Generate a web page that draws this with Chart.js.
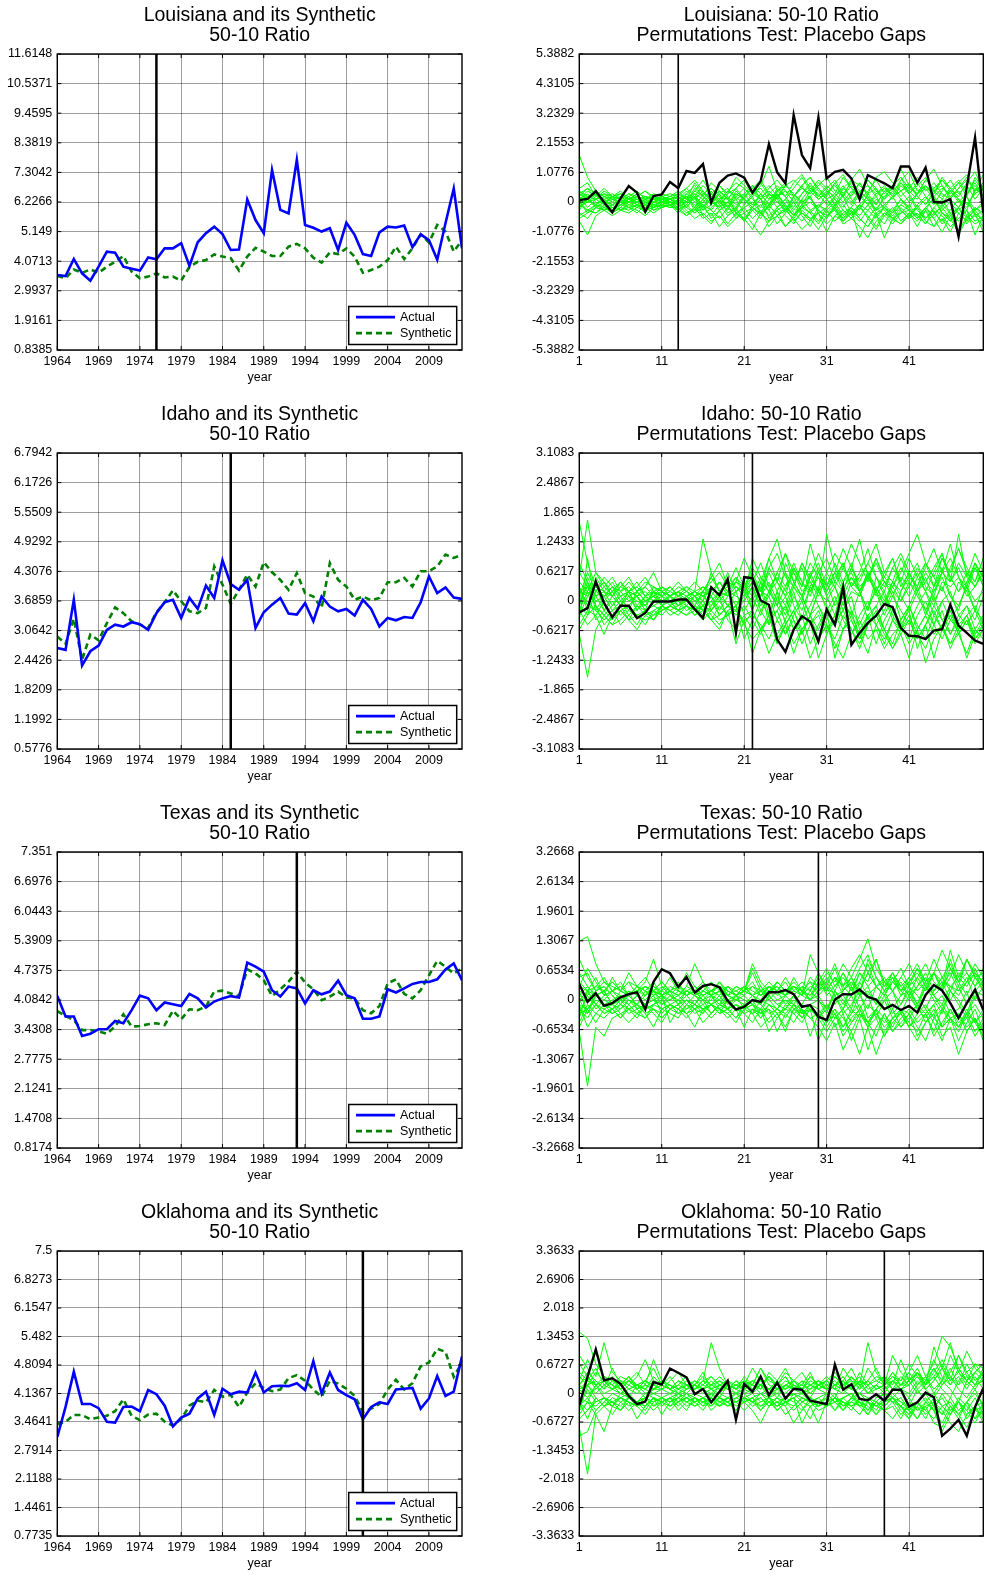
<!DOCTYPE html>
<html>
<head>
<meta charset="utf-8">
<script src="https://cdn.jsdelivr.net/npm/chart.js@4.4.0/dist/chart.umd.min.js"></script>
<style>
  body { margin: 0; background: #fff; overflow: hidden; width: 985px; height: 1585px; position: relative; }
  canvas { position: absolute; }
</style>
</head>
<body>
<canvas id="c0" width="490" height="399" style="left:0;top:0"></canvas>
<canvas id="c1" width="495" height="399" style="left:490px;top:0"></canvas>
<canvas id="c2" width="490" height="399" style="left:0;top:399px"></canvas>
<canvas id="c3" width="495" height="399" style="left:490px;top:399px"></canvas>
<canvas id="c4" width="490" height="399" style="left:0;top:798px"></canvas>
<canvas id="c5" width="495" height="399" style="left:490px;top:798px"></canvas>
<canvas id="c6" width="490" height="388" style="left:0;top:1197px"></canvas>
<canvas id="c7" width="495" height="388" style="left:490px;top:1197px"></canvas>
<script>
// x axes
var years = [1964,1965,1966,1967,1968,1969,1970,1971,1972,1973,1974,1975,1976,1977,1978,1979,1980,1981,1982,1983,
  1984,1985,1986,1987,1988,1989,1990,1991,1992,1993,1994,1995,1996,1997,1998,1999,2000,2001,2002,2003,
  2004,2005,2006,2007,2008,2009,2010,2011,2012,2013];
var periods = [1,2,3,4,5,6,7,8,9,10,11,12,13,14,15,16,17,18,19,20,21,22,23,24,25,26,27,28,29,30,
  31,32,33,34,35,36,37,38,39,40,41,42,43,44,45,46,47,48,49,50];
var yearTicks = [1964,1969,1974,1979,1984,1989,1994,1999,2004,2009];
var periodTicks = [1,11,21,31,41];

// ---------------------------------------------------------------- Louisiana
var laTreatYear = 1976, laTreatPeriod = 13;
var laTicks = [0.8385,1.9161,2.9937,4.0713,5.149,6.2266,7.3042,8.3819,9.4595,10.5371,11.6148];
var laGapTicks = [-5.3882,-4.3105,-3.2329,-2.1553,-1.0776,0,1.0776,2.1553,3.2329,4.3105,5.3882];
var laActual = [3.57,3.53,4.15,3.63,3.36,3.87,4.42,4.38,3.87,3.80,3.73,4.21,4.14,4.54,4.54,4.73,3.90,4.76,5.09,5.33,
  5.06,4.48,4.50,6.32,5.57,5.09,7.39,5.94,5.81,7.76,5.39,5.29,5.15,5.27,4.48,5.47,5.03,4.33,4.26,5.12,
  5.33,5.30,5.37,4.58,5.05,4.84,4.12,5.45,6.72,4.54];
var laSynth = [3.53,3.45,3.77,3.65,3.77,3.65,3.87,4.05,4.26,3.69,3.45,3.51,3.63,3.48,3.51,3.36,3.87,4.05,4.11,4.32,
  4.24,4.18,3.73,4.24,4.56,4.42,4.26,4.26,4.60,4.70,4.54,4.20,4.02,4.39,4.33,4.54,4.24,3.65,3.75,3.87,
  4.11,4.60,4.15,4.54,5.05,4.75,5.39,5.15,4.42,4.84];
var laGap = [0.07,0.11,0.40,-0.01,-0.38,0.13,0.58,0.34,-0.35,0.22,0.28,0.73,0.50,1.13,1.06,1.38,-0.02,0.70,0.96,1.04,
  0.89,0.34,0.76,2.11,1.08,0.68,3.17,1.71,1.23,3.08,0.86,1.10,1.17,0.86,0.10,0.98,0.83,0.68,0.50,1.29,
  1.29,0.70,1.25,0.00,-0.02,0.10,-1.26,0.55,2.35,-0.41];
var laPlacebo = [
  [1.7,.9,.4,.2,.1,0,.1,.2,.1,0,.1,.1,.3,.5,.2,.6,.3,.1,.4,.7,.5,.2,.6,1.3,.4,.6,.8,.5,.3,.7,.4,.2,.5,.8,.6,.3,.9,1.1,.7,.4,.6,.3,.8,.5,.2,.4,.7,1,.3,.6],
  [-.7,-1.2,-.5,-.3,-.2,-.3,-.1,-.2,-.3,-.1,-.2,-.1,0,-.3,-.6,-.4,-.7,-.5,-.9,-.6,-.4,-.8,-1.2,-.7,-.5,-.9,-.6,-1,-.7,-.4,-.8,-.5,-.3,-.6,-.9,-1.3,-.7,-.4,-.6,-.8,-.5,-.2,-.7,-.9,-.4,-.6,-1.1,-.5,-.8,-.6],
  [.3,.1,-.1,.2,.3,.1,-.1,0,.2,.1,0,-.1,.1,.4,.1,-.2,.3,.6,.2,-.1,.2,.5,.1,-.3,.2,.6,.3,-.1,.4,.8,.5,.1,-.2,.3,.7,.2,-.1,.4,.6,.9,.3,-.2,.1,.5,.8,.4,0,.3,.7,.2],
  [-.3,.2,.3,-.1,-.4,-.2,.1,.3,-.1,-.2,.1,0,-.1,-.4,-.2,.1,-.3,-.6,-.2,.1,-.4,-.2,.3,-.1,-.5,-.3,.2,-.4,-.7,-.2,.1,-.3,-.6,-.2,.3,-.1,-.5,-.8,-.3,.1,-.2,-.6,-.3,.2,-.4,-.7,-.2,.2,-.5,-.3],
  [.1,.4,.2,.5,.2,-.1,.2,.4,.1,.3,.2,.1,.2,.5,.8,.4,.1,.6,.3,.9,.6,.3,.1,.5,.8,.4,.2,.6,.9,.5,.2,.7,1,.5,.3,.8,.4,.1,.6,.9,.5,.3,.8,1.2,.6,.2,.5,.9,.4,1],
  [0,-.3,-.4,-.1,.2,-.3,-.4,-.2,.1,-.3,-.1,0,-.2,0,.3,-.2,-.5,-.1,.2,-.4,-.6,-.2,.1,-.3,-.8,-.4,0,-.5,-.9,-.3,-.6,-.2,-.7,-.4,-.1,-.6,-1,-.5,-.2,-.7,-.4,-.9,-.3,-.6,-1.1,-.5,-.2,-.8,-.4,-.7],
  [.5,.7,.2,.3,.1,.2,0,.1,-.1,.2,0,.1,-.1,.2,-.3,.1,.4,0,-.3,.2,.5,.1,-.2,.3,.1,-.4,.2,.6,.1,-.2,.3,.7,.2,-.1,.4,.1,-.3,.2,.5,.1,-.2,.3,.6,.2,-.1,.4,.1,-.3,.5,.2],
  [-.4,-.6,-.2,-.3,-.5,-.3,-.2,-.4,-.1,-.3,-.2,-.1,.1,-.2,.2,-.3,-.1,.3,-.2,-.5,-.1,.2,-.4,-.2,.3,-.1,-.5,-.2,.2,-.3,-.6,-.1,.2,-.4,-.7,-.3,.1,-.2,-.5,-.1,.2,-.3,-.6,-.2,.1,-.4,-.2,-.6,-.3,0],
  [.2,-.2,.1,.4,.2,.3,.1,-.1,.1,.2,.1,.2,.3,.1,.4,.8,.3,0,.4,.2,-.1,.3,.7,.2,-.2,.1,.5,.9,.4,.1,.3,.6,.2,.8,1.2,.6,.3,.5,.2,.7,.4,.1,.6,.3,.9,.5,.2,.7,1.1,.4],
  [-.2,0,.3,.1,-.3,0,.2,-.1,-.4,0,.1,-.1,-.3,.1,-.1,-.5,-.2,.1,-.4,-.2,-.7,-.3,-.1,-.5,-.2,.1,-.4,-.7,-.3,-.1,-.4,-.1,-.6,-.3,-1.3,-.6,-.2,-.5,-.8,-.4,-.3,-.6,-.2,-.5,-.1,-.4,-.7,-.3,-1.2,-.5],
  [.1,.3,0,-.2,.1,.3,.2,0,.2,.1,-.1,.1,.2,0,.4,.2,-.1,.3,.5,.1,.3,-.1,.2,.4,.1,.6,.3,0,.2,.5,.1,.3,0,.4,.2,-.1,.3,.6,.2,.4,0,.3,.5,.1,-.2,.2,.4,-.1,.3,.5],
  [-.1,.1,-.2,-.3,-.1,.1,-.2,-.3,-.5,-.2,-.1,-.2,.1,.2,-.2,.3,.1,-.2,0,.3,.1,-.2,-.5,-.1,.2,-.3,-.6,-.2,-.4,-.1,-.3,-.7,-.4,-.2,-.5,-.1,.2,-.3,-.6,-.4,-.1,-.5,-.8,-.4,-.2,-.6,-.3,0,-.4,-1.1],
  [.4,.2,.1,.3,.2,.1,.3,.1,.2,0,.2,.1,.2,0,.5,.2,.7,.4,.1,.5,.8,.3,.5,.1,.4,.7,.2,.5,.3,.6,.9,.4,.2,.6,.3,.8,.5,.1,.4,.7,.3,.6,.9,.4,.1,.5,.8,.3,.6,.2],
  [-.5,-.3,-.4,-.2,-.3,-.1,-.2,-.1,-.3,-.2,-.1,-.2,-.2,-.5,-.3,-.1,-.6,-.3,-.8,-.4,-.2,-.6,-.3,-.9,-.5,-.2,-.7,-.4,-.6,-1,-.5,-.3,-.8,-.6,-.2,-.5,-.9,-.4,-.7,-.3,-.6,-.4,-.8,-.2,-.5,-.9,-.6,-.3,-.7,-.5],
  [.2,.5,.3,.1,-.1,.1,.3,.2,.4,.2,.3,.2,.1,.3,0,-.3,.2,.4,.1,-.2,.3,.6,.1,-.2,.4,.2,-.3,.1,.5,.3,-.1,.2,.6,.1,-.3,.3,.5,-.1,.2,.4,.7,.2,-.1,.4,.6,.1,-.2,.3,.8,.4],
  [0,-.4,-.2,0,.1,-.1,0,.2,0,-.1,0,.1,-.1,-.2,.2,-.1,-.3,.1,-.2,.3,.1,-.2,-.4,.1,.3,-.2,-.5,-.1,.2,-.4,-.2,.1,-.3,-.6,-.1,.2,-.3,-.1,-.4,.1,-.3,-.6,-.2,.1,-.4,-.7,-.2,.2,-.3,-.1],
  [.2,0,.1,-.1,.2,.1,0,.1,-.1,.1,.2,0,-.2,.3,.6,.2,-.1,.4,.1,-.3,.2,.5,.8,.3,0,-.3,.2,.6,.9,.4,.1,-.2,.3,.7,.4,.1,-.3,.2,.5,1.2,.6,.2,-.1,.3,.8,.5,.1,-.2,.4,.7],
  [-.2,.1,-.1,-.3,-.1,0,-.2,-.1,.1,-.2,0,-.1,-.4,-.1,.2,-.5,-.8,-.3,0,-.4,-.7,-.2,.1,-.6,-.3,-.9,-.5,-.1,-.4,-.8,-.3,0,-.5,-.2,-.6,-.9,-.4,-1.3,-.6,-.2,-.5,-.1,-.6,-.3,-.8,-.4,-1.2,-.6,-.3,-.7],
  [.3,.5,.1,.2,0,.2,.1,.3,.2,.1,.1,.2,.4,.1,.7,.3,.5,.2,.1,.5,.8,.4,.1,.3,.6,.2,.7,1,.5,.2,.6,.3,.9,.5,.1,.4,.8,.3,.6,.2,.5,.9,.4,.7,.3,.1,.5,.8,.4,.6],
  [-.1,-.3,-.1,.1,-.2,-.1,.1,-.1,-.2,0,-.1,0,.2,-.2,-.4,0,.3,-.1,-.5,-.2,.1,-.3,-.6,-.1,.3,-.2,-.5,.1,-.3,-.7,-.2,.2,-.1,-.5,-.2,.1,-.4,-.2,.2,-.3,-.6,-.1,.2,-.4,-.7,-.3,.1,-.5,-.2,-.4],
  [.1,.2,.3,.1,.2,.4,.1,0,.1,.2,.1,.1,0,.2,.1,.4,0,-.2,.3,.5,.1,-.1,.3,.6,.2,.4,0,.3,.7,.2,.5,.8,.3,0,.4,.6,.2,.5,.3,.8,1.1,.4,.6,.2,.5,.3,.7,.2,.9,.5],
  [-.6,-.4,-.1,-.2,-.4,-.2,-.3,-.1,-.2,-.4,-.2,-.1,-.3,-.5,-.2,-.6,-.4,-.9,-.5,-.3,-.6,-1,-.4,-.7,-.2,-.5,-.8,-.3,-.6,-.4,-1.1,-.5,-.7,-.3,-.6,-.9,-.5,-.2,-.6,-.8,-.4,-.7,-.3,-.9,-.6,-1.1,-.4,-.7,-.5,-.9],
  [.4,.1,.3,0,.2,.3,.1,.2,.4,.1,.2,.3,.2,-.1,.3,.1,.5,.2,-.2,.4,.1,.6,.3,-.1,.5,.2,-.2,.3,.6,.1,.4,-.1,.5,.2,.7,.3,-.1,.4,.1,.6,.3,.7,.2,-.1,.4,.8,.3,.6,.1,.5],
  [0,.2,-.2,0,-.1,-.3,0,-.2,0,-.1,-.2,0,-.3,-.1,-.4,-.2,.1,-.3,-.1,-.6,-.2,0,-.4,-.7,-.3,-.1,-.5,-.2,0,-.3,-.5,-.2,-.7,-.4,-.1,-.3,-.6,-.2,-.4,-.1,-.3,-.5,-.2,-.6,-.3,0,-.4,-.7,-.2,-.5]
];

// ---------------------------------------------------------------- Idaho
var idTreatYear = 1985, idTreatPeriod = 22;
var idTicks = [0.5776,1.1992,1.8209,2.4426,3.0642,3.6859,4.3076,4.9292,5.5509,6.1726,6.7942];
var idGapTicks = [-3.1083,-2.4867,-1.865,-1.2433,-0.6217,0,0.6217,1.2433,1.865,2.4867,3.1083];
var idActual = [2.70,2.66,3.71,2.33,2.63,2.75,3.08,3.19,3.15,3.24,3.20,3.08,3.43,3.66,3.71,3.33,3.75,3.52,4.01,3.75,
  4.54,4.04,3.92,4.13,3.12,3.45,3.61,3.75,3.42,3.40,3.64,3.26,3.78,3.57,3.47,3.52,3.38,3.71,3.52,3.15,
  3.33,3.28,3.35,3.33,3.66,4.20,3.85,3.97,3.76,3.73];
var idSynth = [2.94,2.79,3.31,2.45,2.98,2.86,3.22,3.55,3.43,3.26,3.19,3.12,3.45,3.66,3.91,3.68,3.47,3.43,3.54,4.41,
  4.03,3.63,3.92,4.24,3.99,4.50,4.29,4.13,3.92,4.27,3.85,3.78,3.54,4.48,4.13,3.99,3.71,3.78,3.70,3.75,
  4.08,4.08,4.17,3.99,4.31,4.31,4.41,4.66,4.59,4.66];
var idGap = [-0.24,-0.15,0.41,-0.04,-0.34,-0.10,-0.10,-0.36,-0.25,-0.01,-0.01,-0.01,0.03,0.03,-0.17,-0.36,0.29,0.12,0.46,-0.67,
  0.50,0.48,0.01,-0.08,-0.81,-1.07,-0.60,-0.32,-0.43,-0.85,-0.18,-0.50,0.29,-0.92,-0.67,-0.46,-0.31,-0.06,-0.13,-0.57,
  -0.73,-0.74,-0.80,-0.62,-0.59,-0.08,-0.52,-0.67,-0.83,-0.90];
var idPlacebo = [
  [1.65,.8,.3,.2,.1,.3,.2,.1,.2,0,.1,0,.1,.2,.1,.3,.2,.4,.1,.2,.3,.7,.4,.9,1.3,.6,.3,.8,.5,1,.6,.3,.7,1.2,.8,.4,.9,.5,.3,.6,1,1.4,.8,.5,.9,.6,1.1,.7,.4,.9],
  [-.7,-1.6,-.6,-.3,-.5,-.2,-.4,-.3,-.5,-.2,-.3,-.1,-.2,-.3,-.1,-.2,-.4,-.1,-.3,-.2,-.5,-.8,-.6,-1.1,-.7,-.4,-.9,-.6,-1.2,-.8,-.5,-.9,-1.2,-.7,-.4,-.8,-.6,-1,-.7,-.5,-.9,-.6,-1.3,-.8,-.5,-.9,-.7,-1.1,-.6,-.8],
  [.5,1.7,.6,.4,.2,.4,.2,.3,.1,.2,.1,.3,.1,0,.2,1.3,.6,.2,.1,.3,.1,.9,.5,.2,.6,1,.4,.1,.5,.8,.3,.6,.2,.7,1.3,.5,.2,.6,.9,.4,.1,.5,.8,.3,.6,1.2,.5,.2,.7,.4],
  [.2,.3,-.1,-.3,-.1,.2,0,.1,-.2,.3,.1,-.1,.2,-.1,.1,0,.3,.1,.6,.2,.4,-.2,.4,-.3,.2,.6,-.1,-.4,.3,.7,.1,-.3,.4,.8,.2,-.2,.5,.1,-.4,.2,.6,.2,-.3,.3,.7,.1,-.2,.4,.8,.3],
  [-.3,.1,.4,-.2,-.4,-.2,-.1,-.3,-.2,-.1,-.2,-.1,0,-.2,-.1,-.3,-.1,.1,-.4,-.6,-.3,-.2,-.6,-.3,-.9,-.5,-.2,-.7,-.3,-.1,-.5,-.8,-.3,-.6,-1,-.5,-.2,-.6,-.9,-.4,-.1,-.5,-.8,-.3,-.6,-.2,-.7,-.4,-.8,-.5],
  [.4,.2,.6,.3,.1,.4,.2,.1,.3,.6,.2,.1,.2,.1,.2,.3,.1,.4,.2,.5,.3,.5,.2,.1,.6,.3,.8,.4,.2,.6,.9,.4,.2,.7,.3,.5,.8,.4,.1,.5,.3,.7,.4,.2,.6,.9,.5,.3,.8,.5],
  [-.5,-.2,-.3,-.7,-.3,-.1,-.4,-.6,-.3,-.4,-.2,-.1,-.2,-.1,-.3,-.1,-.4,-.3,-.1,-.2,-.4,-.3,-.5,-.8,-.4,-.1,-.6,-.3,-.9,-.5,-.2,-1.2,-.6,-.4,-.8,-.3,-.5,-.9,-.4,-.7,-1.2,-.6,-.3,-.7,-.5,-1,-.6,-.3,-.8,-.6],
  [0,.3,.1,.2,-.1,.1,-.2,.2,0,.1,0,.1,.2,0,.1,-.1,.2,.4,.2,.1,0,.3,.1,.4,0,-.2,.3,.1,-.3,.2,.4,-.1,.1,.5,.2,-.2,.3,0,.4,.1,-.2,.2,.5,0,.3,-.1,.4,.2,-.2,.3],
  [-.2,-.5,-.3,0,.2,-.1,.1,-.2,.1,-.1,0,.1,-.1,.1,0,-.2,.1,-.3,-.1,0,-.2,.1,-.3,.2,-.1,-.4,.1,-.2,.3,-.1,-.4,0,.3,-.2,-.5,-.1,.2,-.3,.1,-.2,-.5,-.1,.2,-.3,0,-.4,-.1,.3,-.2,-.4],
  [.3,-.1,.2,.5,.3,.2,.3,.1,-.1,.2,.3,.1,0,.1,-.1,.2,.1,-.2,.1,.3,.2,.5,.1,.6,.2,-.1,.4,.7,.2,.5,.1,.4,.8,.3,.1,.6,.2,.5,.9,.3,.6,.2,.4,.7,1,.5,.2,.6,.3,.7],
  [-.1,.4,-.2,-.4,-.2,0,-.3,-.5,-.2,-.4,-.1,-.2,-.1,0,-.2,-.4,-.2,0,-.3,-.1,.2,-.2,.3,-.5,-.2,.1,-.4,-.7,-.3,.2,-.1,-.5,-.2,.1,-.6,-.3,-.9,-.4,-.1,-.5,-.2,-1,-.5,-.1,-.4,-.7,-.3,-.5,-.2,-.6],
  [.1,0,-.2,.1,.3,.1,.2,-.1,.1,0,.2,0,-.1,.1,.2,.1,-.1,.2,.3,.7,.3,.1,.5,.3,-.1,.8,.4,.1,.6,.2,1.4,.7,.3,.5,.2,.6,.3,-.1,.4,.2,.5,.8,.3,.1,.6,.4,1.4,.5,.3,.6],
  [-.6,-.3,-.1,-.3,-.5,-.4,-.2,-.3,-.4,-.3,-.1,-.2,-.3,-.1,-.2,0,-.3,-.5,-.2,-.9,-.4,-1.1,-.6,-.3,-.8,-.5,-.2,-.6,-.4,-1.2,-.7,-.3,-.6,-.2,-.8,-.5,-.3,-.6,-1,-.7,-.4,-.8,-.5,-1.2,-.6,-.3,-.7,-.4,-.9,-.6],
  [.2,.1,.3,.1,.2,.4,.1,.2,0,.1,.2,.1,.3,.2,0,.1,.2,0,.2,-.1,.1,.3,-.1,.2,.4,.1,.3,0,.5,.2,0,.3,-.2,.2,.1,.5,.2,-.1,.3,0,.4,.1,-.2,.2,.5,.1,-.1,.3,0,.2],
  [-.1,-.3,.2,.1,-.2,-.1,.1,0,-.1,.2,-.1,0,-.2,.1,-.1,.2,-.2,.1,-.1,-.3,-.1,-.4,0,-.3,.2,-.5,-.2,.1,-.3,-.6,-.2,.1,-.4,-.7,-.3,0,-.5,-.2,.2,-.4,-.1,-.6,-.3,.1,-.4,-.2,-.6,-.3,-.1,-.5],
  [.6,.3,.2,.4,.1,.3,.5,.2,.4,.3,.2,.3,.1,.2,.4,.2,.5,.8,.3,.4,.9,.5,.2,.7,.4,1,.6,.3,.8,.5,.2,.6,1.1,.7,.4,.8,.5,.3,.7,1,.6,.3,.8,.5,.2,.7,1.1,.6,.4,.9],
  [.1,.6,.2,.4,.1,-.1,.2,.3,.5,.2,.1,.2,.1,.3,.2,.1,.3,.1,.2,.4,.3,.6,.2,.9,.4,.1,.7,.3,1.2,.6,.2,.5,.8,.3,.6,1.1,.5,.2,.7,.4,.9,.5,.2,.6,1,.4,.7,.3,.8,.5],
  [-.4,.9,-.1,-.5,-.3,-.2,-.4,-.1,-.3,-.2,-.1,-.3,-.2,-.1,-.3,-.2,-.4,-.6,-.2,-.1,-.8,-.4,-.7,-.3,-.9,-.5,-1.1,-.6,-.3,-.8,-.5,-1,-.6,-.3,-.7,-1.1,-.5,-.8,-.4,-.6,-.3,-.7,-1,-.5,-.8,-.4,-.6,-1.2,-.7,-.5],
  [.3,-.2,.5,.2,.4,.1,.2,.4,.1,.3,.2,.1,.2,.3,.1,.2,.5,.2,.4,.3,.1,.4,.8,.3,.5,.2,.7,.4,.1,.6,.3,.8,.4,.6,.2,.5,.9,.4,.3,.7,.4,.2,.6,.3,.9,.5,.2,.4,.7,.3],
  [-.2,.2,-.4,-.2,0,-.3,-.1,.1,-.2,-.4,-.1,0,-.2,-.1,.1,-.2,0,-.3,-.1,.2,-.3,-.6,-.2,.1,-.4,-.7,-.3,0,-.5,-.2,-.6,-.3,.1,-.4,-.8,-.3,-.1,-.6,-.2,-.5,-.8,-.3,0,-.5,-.2,-.7,-.4,-.1,-.6,-.3],
  [.8,.4,.1,.3,.5,.2,.4,.2,.3,.1,.3,.2,.4,.2,.1,.2,.4,.6,.3,.5,.2,.4,.1,.7,1,.5,.3,.8,.4,.2,.6,1,.7,.3,.5,.8,1.2,.6,.4,.9,.5,.3,.7,1.1,.6,.4,.8,.5,1,.6],
  [-.3,-.1,-.2,-.4,-.2,-.5,-.3,-.1,-.2,-.3,-.2,-.1,-.2,-.3,-.2,-.1,-.2,-.4,-.3,-.1,-.5,-.2,-.6,-.4,-.2,-.7,-.4,-.9,-.5,-.3,-.7,-.4,-.2,-.6,-.9,-.5,-.3,-.7,-1,-.6,-.4,-.8,-.5,-.2,-.6,-.9,-.5,-.3,-.7,-.4],
  [.1,.2,0,.1,.3,0,.2,.1,-.1,.2,0,.1,-.1,.1,.2,0,.6,.2,.1,.4,.2,0,.4,.2,-.1,.3,.6,.2,.4,.1,.5,.3,-.1,.4,.2,.6,.1,.4,.2,0,.3,.6,.2,-.1,.4,.3,.5,.1,.3,.6],
  [-.1,.5,.1,-.2,.1,-.1,.2,-.2,0,.1,-.1,.1,0,-.1,.1,-.1,0,.2,-.1,-.2,0,.3,-.2,-.5,.1,-.3,.2,-.4,-.1,.3,-.2,-.5,0,-.3,.2,-.4,-.1,.2,-.3,-.6,-.1,.3,-.2,-.5,0,.2,-.3,-.1,-.4,.1]
];

// ---------------------------------------------------------------- Texas
var txTreatYear = 1993, txTreatPeriod = 30;
var txTicks = [0.8174,1.4708,2.1241,2.7775,3.4308,4.0842,4.7375,5.3909,6.0443,6.6976,7.351];
var txGapTicks = [-3.2668,-2.6134,-1.9601,-1.3067,-0.6534,0,0.6534,1.3067,1.9601,2.6134,3.2668];
var txActual = [4.17,3.72,3.72,3.29,3.34,3.44,3.44,3.62,3.57,3.86,4.18,4.12,3.86,4.03,3.99,3.95,4.22,4.12,3.92,4.05,
  4.12,4.17,4.14,4.91,4.82,4.71,4.30,4.16,4.38,4.34,4.01,4.30,4.21,4.27,4.51,4.19,4.12,3.67,3.67,3.72,
  4.32,4.25,4.34,4.44,4.48,4.48,4.54,4.76,4.89,4.52];
var txSynth = [3.84,3.73,3.64,3.42,3.42,3.39,3.34,3.50,3.77,3.50,3.51,3.55,3.57,3.53,3.85,3.66,3.88,3.86,3.94,4.27,
  4.29,4.23,4.17,4.76,4.67,4.52,4.17,4.32,4.49,4.71,4.47,4.32,4.08,4.16,4.27,4.14,4.12,3.86,3.79,3.95,
  4.45,4.54,4.22,4.12,4.30,4.63,4.95,4.82,4.67,4.78];
var txGap = [0.35,-0.04,0.15,-0.13,-0.07,0.06,0.13,0.17,-0.21,0.40,0.68,0.59,0.29,0.51,0.16,0.31,0.35,0.28,-0.02,-0.21,
  -0.15,0.00,-0.04,0.17,0.17,0.22,0.13,-0.15,-0.11,-0.37,-0.44,0.01,0.13,0.12,0.23,0.07,0.01,-0.20,-0.11,-0.22,
  -0.13,-0.28,0.11,0.33,0.21,-0.07,-0.40,-0.07,0.23,-0.22];
var txPlacebo = [
  [1.3,1.4,.8,.4,.3,.2,.4,.3,.2,.1,.3,.2,.1,.3,.2,.1,.2,.3,.1,.2,.3,.1,.2,.4,.2,.1,.3,.2,.4,.3,.6,.4,.8,.5,.9,1.35,.7,.4,.6,.3,.5,.8,.4,.6,1.1,.7,.4,.9,.5,.6],
  [-.7,-1.9,-.6,-.8,-.4,-.3,-.5,-.3,-.4,-.2,-.3,-.1,-.2,-.3,-.1,-.2,-.4,-.2,-.3,-.1,-.2,-.3,-.6,-.4,-.2,-.3,-.5,-.2,-.4,-.6,-.9,-.5,-1.1,-.7,-1.2,-.6,-.4,-.8,-.5,-.3,-.6,-.9,-.5,-.3,-.8,-.6,-1.2,-.7,-.4,-.8],
  [.3,.7,.4,.1,.5,.2,.6,.3,.1,.2,.4,.2,.1,.3,.8,.4,.2,.1,.3,.2,.1,.3,.2,.1,.4,.2,.3,.1,1,.6,.3,.7,.2,.4,.1,.9,.5,.2,.6,.3,.1,.5,.8,.4,.2,.7,.3,.9,.5,.2],
  [-.4,.2,-.1,-.3,-.2,0,-.2,-.1,-.3,-.6,-.2,-.1,-.2,0,-.1,-.2,-.1,-.3,0,-.2,-.6,-.2,-.3,-.1,-.2,-.4,-.1,-.3,-.2,-.9,-.4,-.2,-.6,-.3,-.1,-.5,-.8,-.3,-.6,-.2,-.5,-.7,-.3,-.1,-.6,-.4,-.9,-.5,-.2,-.7],
  [.1,.3,.1,.2,-.1,.2,.4,.1,-.1,.2,.1,0,.2,.1,-.1,.2,.1,0,.3,.1,.2,.6,.2,.3,.1,.2,.4,.2,.1,.3,.2,.5,.1,-.2,.4,.8,.3,.1,.5,.2,.3,-.1,.4,.6,.2,.9,.4,.1,.5,.3],
  [-.2,-.4,-.1,-.2,-.3,-.1,-.2,-.4,-.1,.1,-.3,-.1,-.2,-.4,-.2,0,-.3,-.1,-.2,-.4,-.1,-.3,-.2,-.5,-.3,-.7,-.2,-.3,-.1,-.4,-.2,-.6,-.3,-.9,-.4,-1.1,-.6,-.3,-.7,-.4,-.2,-.5,-.3,-.8,-.5,-.2,-.6,-.4,-.8,-.5],
  [.5,.6,.2,.3,.1,-.1,.1,.2,.4,.9,.3,.1,-.1,.2,.1,.3,.1,-.1,.2,.1,.3,.1,-.1,.2,.3,.1,.5,.2,0,.4,.7,.3,.5,.2,.6,.4,.9,.3,.5,.1,.4,.7,.3,.6,.2,.5,1,.6,.3,.7],
  [0,-.3,.1,.2,-.1,0,.2,-.2,-.4,-.1,.1,-.5,-.2,0,-.1,-.3,.1,-.2,0,.1,-.2,0,-.3,.1,-.1,-.2,.1,-.3,-.1,0,-.3,.2,-.1,.3,-.2,.1,-.4,0,.2,-.3,.1,-.2,.3,0,-.3,.2,-.1,-.4,.1,-.2],
  [.2,.1,.3,.2,.4,.2,.1,.3,.2,.4,.1,.2,.3,.1,.2,.4,.1,.2,.3,.1,.2,.4,.1,.3,.2,.1,.3,.2,.4,.1,.3,.1,.2,.4,.2,.6,.3,.1,.4,.2,.5,.2,.4,.1,.3,.6,.2,.4,.7,.3],
  [-.3,-.2,-.5,-.2,-.1,-.3,-.2,-.1,-.3,-.2,-.4,-.2,-.3,-.1,-.2,-.3,-.1,-.2,-.4,-.2,-.3,-.5,-.2,-.7,-.4,-.2,-.3,-.5,-.2,-.4,-.7,-.4,-.2,-.5,-.3,-.6,-.2,-.4,-.7,-.5,-.3,-.6,-.9,-.4,-.2,-.5,-.3,-.7,-.4,-.9],
  [0,.2,.1,-.1,0,.1,-.1,.1,0,.2,-.1,0,.1,-.1,.1,0,-.1,.1,-.2,0,.1,-.1,.2,0,-.2,.1,-.1,.2,0,.1,-.2,.2,0,-.3,.1,.3,-.1,.2,-.2,.1,.2,-.1,.3,.1,-.2,.2,0,-.3,.2,.1],
  [.4,.2,.3,.5,.2,.4,.1,.2,.3,.1,.2,.1,.3,.2,.1,.2,.4,.2,.1,.3,.2,.8,.4,.2,.3,.1,.2,.4,.2,.6,.2,.5,.3,.7,1,.6,.3,.4,.2,.5,.8,.4,.2,.6,.3,1.1,.5,.3,.6,.4],
  [-.1,-.2,0,-.1,-.3,-.2,0,-.2,-.1,-.3,-.5,-.2,-.1,-.3,-.6,-.2,-.1,-.3,-.2,-.1,-.3,-.2,-.4,-.1,-.3,-.6,-.2,-.4,-.1,-.2,-.5,-.3,-.7,-.4,-.2,-.5,-.3,-.6,-.4,-.2,-.6,-.3,-.1,-.4,-.6,-.2,-.5,-.3,-.7,-.4],
  [.1,0,.2,.3,.1,-.1,.2,.1,.3,.2,0,.2,.4,.1,.2,0,.2,.3,.1,0,.2,.1,0,.3,.2,.4,.1,.3,.2,.5,.1,.3,.6,.2,.4,.1,.3,.5,.2,.4,.1,.3,.6,.2,.5,.3,.1,.4,.6,.2],
  [-.5,-.1,-.3,-.4,-.2,-.1,-.3,-.2,-.1,0,-.2,-.1,-.3,-.2,0,-.2,-.1,-.3,-.2,-.1,-.2,0,-.1,-.3,-.2,0,-.1,-.2,-.8,-.3,-.1,-.4,-.2,.1,-.3,-.5,-.2,0,-.4,-.2,-.3,-.1,-.5,-.3,-.1,-.4,-.6,-.2,-.5,-.3],
  [.2,-.3,.1,0,.2,.1,0,-.1,.1,.3,.1,.2,-.1,.1,.2,0,.1,.2,-.1,.1,.2,.1,-.1,.2,0,.1,.3,.1,0,.2,.4,.1,-.2,.3,.1,.2,-.1,.4,.2,-.1,.3,.1,-.2,.2,.4,0,.3,-.1,.2,.4],
  [.6,.3,.1,.2,.4,.2,.1,.3,.5,.2,.1,.3,.2,.6,.3,.1,.2,.4,.1,.3,.2,.7,.3,.1,.4,.2,.3,.1,.5,.3,.4,.8,.3,.5,.2,.6,.9,.4,.2,.5,.3,.7,.4,.9,.5,.2,.6,.4,.8,.5],
  [-.1,-.6,-.3,-.1,-.2,-.4,-.2,-.3,-.1,-.2,-.4,-.2,-.1,-.3,-.2,-.5,-.3,-.1,-.2,-.4,-.2,-.1,-.4,-.2,-.7,-.3,-.1,-.4,-.2,-.3,-.6,-.3,-.8,-.5,-.2,-.6,-1.2,-.7,-.4,-.6,-.3,-.8,-.5,-.2,-.6,-.4,-.7,-.3,-.5,-.8],
  [.3,.2,.5,.1,.2,.3,.1,.2,.1,.3,.2,.5,.2,.1,.3,.2,.1,.4,.2,.1,.3,.2,.1,.3,.2,.5,.2,.1,.3,.2,.5,.2,.6,.3,.7,1,.5,.3,.6,.2,.4,.6,.3,.2,.5,.8,.4,.6,.3,.5],
  [-.3,.1,-.2,0,-.1,-.2,0,-.1,-.2,-.1,0,-.2,-.1,0,-.2,-.1,-.3,-.1,0,-.2,-.1,-.3,0,-.1,-.3,-.2,0,-.1,-.2,-.4,-.1,-.3,-.6,-.2,-.4,-.1,-.3,-.5,-.2,-.6,-.4,-.1,-.3,-.7,-.2,-.4,-.6,-.3,-.1,-.4],
  [.9,.5,.2,.4,.2,.3,.1,.2,.3,.2,.4,.2,.1,.2,.3,.1,.2,.3,.2,.1,.2,.3,.1,.2,.4,.2,.3,.2,.1,.4,.2,.5,.3,.1,.6,.3,.5,.2,.4,.7,.3,.5,.2,.6,.4,.3,.5,.9,.6,.4],
  [-.2,-.3,-.1,-.3,-.2,-.4,-.1,-.3,-.2,-.1,-.2,-.3,-.4,-.1,-.3,-.2,-.1,-.2,-.3,-.5,-.2,-.1,-.3,-.2,-.4,-.1,-.3,-.2,-.4,-.3,-.5,-.2,-.4,-.7,-.3,-.5,-.2,-.8,-.4,-.3,-.6,-.4,-.2,-.5,-.9,-.4,-.3,-.6,-.4,-.7],
  [0,.2,-.1,.1,.2,0,.1,-.1,.2,0,.1,-.1,0,.2,.1,-.1,0,.2,.1,0,-.1,.1,.3,0,.2,-.1,.1,.3,0,.2,.3,-.1,.2,.5,.1,-.2,.3,.1,.4,.2,0,.3,.5,.1,-.1,.3,.2,.5,0,.3],
  [-.6,-.2,.1,-.1,-.2,0,-.1,.1,-.1,0,-.1,.1,0,-.2,-.1,.1,-.1,0,-.2,.1,0,-.1,-.2,.1,-.1,0,-.2,-.1,.2,0,-.2,.1,-.3,-.1,.2,-.4,-.2,.1,-.3,-.1,.2,-.2,-.4,-.1,.1,-.3,-.2,.2,-.5,-.2]
];

// ---------------------------------------------------------------- Oklahoma
var okTreatYear = 2001, okTreatPeriod = 38;
var okTicks = [0.7735,1.4461,2.1188,2.7914,3.4641,4.1367,4.8094,5.482,6.1547,6.8273,7.5];
var okGapTicks = [-3.3633,-2.6906,-2.018,-1.3453,-0.6727,0,0.6727,1.3453,2.018,2.6906,3.3633];
var okActual = [3.11,3.82,4.65,3.89,3.89,3.79,3.47,3.45,3.82,3.83,3.72,4.22,4.12,3.85,3.36,3.57,3.66,4.02,4.18,3.63,
  4.25,4.12,4.18,4.16,4.63,4.16,4.31,4.32,4.31,4.38,4.22,4.90,4.14,4.63,4.22,4.10,4.00,3.53,3.82,3.93,
  3.89,4.23,4.25,4.27,3.78,4.02,4.55,4.08,4.18,5.01];
var okSynth = [3.41,3.47,3.63,3.63,3.53,3.57,3.61,3.72,4.00,3.61,3.51,3.64,3.66,3.47,3.38,3.53,3.85,3.97,3.93,4.22,
  4.06,4.10,3.82,4.16,4.38,4.27,4.19,4.23,4.50,4.57,4.44,4.23,4.06,4.44,4.37,4.25,4.08,3.70,3.78,3.89,
  4.23,4.46,4.23,4.38,4.78,4.87,5.19,5.12,4.53,4.87];
var okGap = [-0.28,0.40,1.04,0.31,0.36,0.23,-0.06,-0.25,-0.19,0.27,0.21,0.59,0.49,0.38,-0.02,0.11,-0.21,0.04,0.30,-0.62,
  0.23,0.04,0.40,-0.04,0.26,-0.12,0.11,0.09,-0.17,-0.21,-0.25,0.68,0.09,0.22,-0.13,-0.16,-0.02,-0.17,0.09,0.09,
  -0.31,-0.21,0.02,-0.09,-1.00,-0.83,-0.62,-1.00,-0.32,0.13];
var okPlacebo = [
  [1.45,1.3,.7,.4,.3,.2,.4,.1,.3,.2,.3,.1,.2,.4,.1,.3,.2,.1,.3,.2,.1,.3,.2,.4,.1,.2,.3,.1,.4,.2,.3,.5,.2,.4,.1,.3,.6,.2,.4,.3,.5,.9,.4,.7,1.35,1.1,.6,.3,.5,.7],
  [-.8,-1.9,-.5,-.9,-.3,-.4,-.2,-.3,-.5,-.2,-.1,-.3,-.2,-.4,-.1,-.2,-.3,-.1,-.2,-.4,-.2,-.1,-.3,-.2,-.4,-.2,-.1,-.3,-.6,-.2,-.3,-.1,-.4,-.2,-.3,-.5,-.2,-.4,-.6,-.3,-.5,-.3,-.6,-.2,-.4,-.7,-.9,-.5,-.3,-.6],
  [.3,.8,.4,1.2,.5,.3,.2,.4,.8,.3,.2,.1,.3,.2,.1,.3,1.2,.6,.2,.1,.3,.2,.1,.4,.2,.1,.3,.2,.1,.3,.2,.1,.6,.3,.2,1.2,.5,.2,.3,.1,.2,.4,.1,.3,.6,1.2,.5,.2,.4,.1],
  [-.4,.2,-.1,-.3,-.5,-.2,-.1,-.3,-.2,-.4,-.2,-.1,-.3,-.1,-.2,-.4,-.1,-.2,-.3,-.1,-.2,-.4,-.7,-.3,-.1,-.2,-.4,-.2,-.3,-.7,-.2,-.4,-.1,-.3,-.2,-.5,-.2,-.4,-.3,-.6,-.2,-.4,-.3,-.7,-.8,-.4,-.2,-.5,-.3,-.7],
  [.2,.4,.1,.3,.2,.4,.3,.1,.2,.8,.3,.2,.1,.2,.3,.1,.2,.4,.2,.1,.3,.2,.6,.3,.2,.4,.1,.2,.5,.1,.2,.3,.1,.4,.2,.3,.1,.2,.9,.5,.3,.6,.2,.5,.8,.4,.2,.7,.3,.5],
  [-.3,-.1,-.4,-.2,0,-.1,-.2,-.6,-.3,-.1,-.2,-.1,-.2,0,-.1,-.2,-.1,-.3,-.1,-.2,-.1,-.3,-.2,-.1,-.2,-.3,-.7,-.4,-.1,-.2,-.3,-.1,-.2,-.4,-.1,-.2,-.5,-.3,-.1,-.4,-.6,-.2,-.4,-.1,-.3,-.5,-.2,-.4,-.7,-.3],
  [0,.2,.3,.1,.3,.1,-.1,.2,.3,.6,.2,.1,-.1,.1,.2,0,.1,-.1,.2,.1,0,.1,.2,-.1,.1,0,.2,.1,-.1,.2,.1,-.1,.3,.1,0,.2,-.1,.1,.3,.1,-.1,.2,.4,0,.3,.1,-.2,.3,.1,.4],
  [-.5,-.2,.2,-.1,-.3,-.1,0,-.2,-.1,0,-.1,0,-.2,-.1,0,-.1,-.2,0,-.1,-.2,-.1,0,-.2,-.1,0,-.2,-.1,0,-.2,-.3,-.2,0,-.3,-.1,0,-.2,-.3,-.1,0,-.2,-.3,.1,-.2,-.4,0,-.3,-.5,-.2,.1,-.3],
  [.5,.3,.6,.2,.4,.1,.3,.2,.1,.3,.2,.1,.3,.2,.1,.3,.4,.2,.1,.2,.3,.1,.2,.4,.2,.5,.3,.1,.2,.3,.1,.4,.2,.3,.1,.6,.3,.2,.5,.2,.4,.1,.3,.6,.2,.5,.9,.4,.2,.6],
  [-.2,-.4,-.1,-.3,-.2,-.1,-.3,-.2,-.4,-.1,-.5,-.2,-.1,-.3,-.2,-.1,-.4,-.2,-.1,-.3,-.2,-.1,-.4,-.2,-.3,-.1,-.2,-.4,-.2,-.1,-.3,-.2,-.4,-.1,-.2,-.3,-.5,-.2,-.1,-.3,-.6,-.3,-.1,-.4,-.9,-.5,-.2,-.4,-.1,-.5],
  [.1,-.1,.2,.3,.1,0,.2,.1,-.1,.1,.1,0,.1,.2,0,.1,-.1,.2,.1,0,.1,.2,0,.1,-.1,.2,.1,0,.2,.1,0,.2,.1,-.1,.2,0,.1,.2,-.1,.1,.3,0,.2,.4,.1,-.1,.3,.5,.2,.3],
  [.7,.4,.2,.3,.1,.2,.3,.5,.2,.1,.3,.1,.2,.1,.3,.2,.1,.3,.2,.1,.2,.3,.1,.5,.3,.6,.2,.1,.3,.2,.4,.2,.3,.1,.5,.2,.3,.4,.2,.8,.3,.5,.2,1.1,.6,.3,.9,.5,.7,.6],
  [-.1,-.2,-.3,-.1,-.2,-.4,-.1,-.2,-.3,-.1,-.2,-.3,-.1,-.2,-.1,-.3,-.2,-.1,-.3,-.2,-.1,-.2,-.4,-.1,-.3,-.2,-.1,-.7,-.3,-.2,-.1,-.2,-.4,-.1,-.3,-.2,-.4,-.1,-.2,-.3,-.4,-.6,-.3,-.2,-.5,-.3,-.6,-.2,-.4,-.5],
  [.2,0,.1,.3,.2,0,.1,.2,.1,0,.1,.2,0,.1,.2,.1,0,.2,.1,.3,.1,0,.2,.1,.3,.1,.2,0,.1,.2,.3,.1,0,.2,.4,.1,.2,0,.3,.1,0,.3,.1,-.1,.2,.4,.1,-.1,.2,.3],
  [-1,-.9,-.4,-.2,-.3,-.1,-.2,-.3,-.1,-.2,-.1,-.2,0,-.1,-.2,-.1,0,-.2,-.1,0,-.2,-.1,0,-.2,-.1,-.3,0,-.1,-.2,-.1,0,-.2,-.1,0,-.3,-.1,-.2,0,-.1,-.3,-.1,-.4,-.2,0,-.3,-.5,-.1,-.3,-.6,-.2],
  [.1,.3,.2,0,.1,.3,.1,.2,0,.1,.2,.1,0,.2,.1,.3,.1,0,.2,.1,.3,.1,.2,0,.1,.2,.3,.1,0,.2,.1,.2,.4,.1,.3,0,.2,.4,.1,.2,.2,.5,.1,.3,.6,.2,.4,.1,.5,.3],
  [.4,.2,.5,.3,.1,.2,.4,.2,.3,.1,.2,.4,.1,.3,.2,.5,.1,.2,.3,.1,.4,.2,.6,.2,.1,.3,.2,.1,.4,.2,.3,.1,.2,.4,.2,.3,.1,.2,.5,.3,.7,.4,.2,.6,.3,.9,.5,.3,.7,.4],
  [-.2,-.6,-.1,-.3,-.2,-.4,-.1,-.2,-.3,-.1,-.2,-.4,-.2,-.1,-.3,-.2,-.1,-.3,-.2,-.4,-.1,-.2,-.3,-.1,-.4,-.2,-.3,-.1,-.2,-.3,-.1,-.4,-.2,-.3,-.5,-.2,-.3,-.4,-.2,-.5,-.3,-.6,-.2,-.4,-.7,-.3,-.5,-.2,-.6,-.4],
  [.2,.5,.3,.1,.6,.2,.4,.1,.3,.2,.1,.3,.5,.2,.1,.2,.4,.2,.1,.3,.2,.6,.3,.1,.2,.4,.1,.3,.2,.1,.3,.2,.4,.1,.3,.2,.4,.3,.1,.4,.2,.5,.3,.8,.4,.2,.6,.3,.5,.7],
  [-.4,-.2,-.5,-.3,-.1,-.2,-.4,-.2,-.1,-.3,-.2,-.1,-.4,-.2,-.3,-.1,-.2,-.3,-.1,-.2,-.4,-.2,-.1,-.3,-.2,-.5,-.3,-.1,-.2,-.4,-.3,-.1,-.2,-.3,-.1,-.4,-.2,-.3,-.1,-.3,-.5,-.2,-.4,-.6,-.3,-.2,-.5,-.8,-.4,-.3],
  [.9,.6,.2,.4,.2,.1,.3,.2,.1,.4,.2,.1,.3,.1,.2,.4,.2,.3,.1,.2,.1,.3,.2,.4,.2,.1,.3,.5,.2,.3,.1,.2,.3,.6,.2,.3,.1,.2,.4,.2,.3,.5,.2,.4,.7,.3,.5,1,.6,.4],
  [-.3,.1,-.2,-.1,-.3,0,-.1,-.2,0,-.1,-.3,-.1,0,-.2,-.1,-.3,0,-.1,-.2,0,-.1,-.2,0,-.1,-.3,-.1,0,-.2,-.1,-.3,0,-.2,-.1,0,-.2,-.4,-.1,0,-.2,-.1,-.4,-.2,0,-.3,-.5,-.1,-.4,-.2,0,-.3],
  [.1,.2,0,.2,.1,.3,.1,0,.2,.1,.3,.2,.1,0,.2,.1,.3,.1,.2,0,.2,.1,.3,.1,0,.2,.1,.3,0,.2,.1,.4,.2,.1,.3,0,.2,.1,.3,.2,.5,.2,.4,.1,.3,.6,.2,.4,.2,.5],
  [-.6,-.4,-.2,-.1,-.2,-.3,-.1,-.2,-.1,-.3,-.1,-.2,-.1,0,-.2,-.1,-.3,-.1,-.2,-.1,0,-.2,-.1,-.3,-.2,-.1,0,-.2,-.1,-.3,-.2,-.1,-.3,-.2,0,-.1,-.3,-.2,-.1,-.2,-.4,-.2,-.5,-.3,-.1,-.4,-.2,-.6,-.3,-.2]
];

var FONT = 'Arial, "Liberation Sans", sans-serif';
var GRID = 'rgba(0,0,0,0.38)';

var panels = [
  { id: 'c0', kind: 'state', title: ['Louisiana and its Synthetic', '50-10 Ratio'], actual: laActual, synth: laSynth, yTicks: laTicks, treat: laTreatYear },
  { id: 'c1', kind: 'gap', title: ['Louisiana: 50-10 Ratio', 'Permutations Test: Placebo Gaps'], gap: laGap, placebo: laPlacebo, yTicks: laGapTicks, treat: laTreatPeriod },
  { id: 'c2', kind: 'state', title: ['Idaho and its Synthetic', '50-10 Ratio'], actual: idActual, synth: idSynth, yTicks: idTicks, treat: idTreatYear },
  { id: 'c3', kind: 'gap', title: ['Idaho: 50-10 Ratio', 'Permutations Test: Placebo Gaps'], gap: idGap, placebo: idPlacebo, yTicks: idGapTicks, treat: idTreatPeriod },
  { id: 'c4', kind: 'state', title: ['Texas and its Synthetic', '50-10 Ratio'], actual: txActual, synth: txSynth, yTicks: txTicks, treat: txTreatYear },
  { id: 'c5', kind: 'gap', title: ['Texas: 50-10 Ratio', 'Permutations Test: Placebo Gaps'], gap: txGap, placebo: txPlacebo, yTicks: txGapTicks, treat: txTreatPeriod },
  { id: 'c6', kind: 'state', title: ['Oklahoma and its Synthetic', '50-10 Ratio'], actual: okActual, synth: okSynth, yTicks: okTicks, treat: okTreatYear },
  { id: 'c7', kind: 'gap', title: ['Oklahoma: 50-10 Ratio', 'Permutations Test: Placebo Gaps'], gap: okGap, placebo: okPlacebo, yTicks: okGapTicks, treat: okTreatPeriod }
];

function pts(xs, ys) {
  return ys.map(function (v, i) { return { x: xs[i], y: v }; });
}

// box, inward tick marks and the small legend, MATLAB style
var framePlugin = {
  id: 'frame',
  afterDatasetsDraw: function (chart, args, opts) {
    var ctx = chart.ctx, a = chart.chartArea, sx = chart.scales.x, sy = chart.scales.y;
    ctx.save();
    ctx.strokeStyle = '#000';
    ctx.lineWidth = 1;
    ctx.beginPath();
    sx.ticks.forEach(function (t) {
      var p = sx.getPixelForValue(t.value);
      ctx.moveTo(p, a.bottom); ctx.lineTo(p, a.bottom - 4);
      ctx.moveTo(p, a.top); ctx.lineTo(p, a.top + 4);
    });
    sy.ticks.forEach(function (t) {
      var p = sy.getPixelForValue(t.value);
      ctx.moveTo(a.left, p); ctx.lineTo(a.left + 4, p);
      ctx.moveTo(a.right, p); ctx.lineTo(a.right - 4, p);
    });
    ctx.stroke();
    ctx.lineWidth = 1.4;
    ctx.strokeRect(a.left, a.top, a.right - a.left, a.bottom - a.top);

    if (opts.legend) {
      var bw = 108, bh = 38;
      var bx = a.right - 5.3 - bw, by = a.bottom - 5.5 - bh;
      ctx.fillStyle = '#fff';
      ctx.fillRect(bx, by, bw, bh);
      ctx.lineWidth = 1.5;
      ctx.strokeRect(bx, by, bw, bh);
      var items = chart.data.datasets.filter(function (d) { return d.legend; });
      items.forEach(function (d, i) {
        var ly = by + 10.6 + i * 16;
        ctx.strokeStyle = d.borderColor;
        ctx.lineWidth = d.borderWidth;
        ctx.setLineDash(d.borderDash || []);
        ctx.beginPath();
        ctx.moveTo(bx + 7.3, ly); ctx.lineTo(bx + 46.3, ly);
        ctx.stroke();
        ctx.setLineDash([]);
        ctx.fillStyle = '#000';
        ctx.font = '12.5px ' + FONT;
        ctx.textBaseline = 'middle';
        ctx.textAlign = 'left';
        ctx.fillText(d.label, bx + 51.3, ly);
      });
    }
    ctx.restore();
  }
};

panels.forEach(function (p) {
  var isState = p.kind === 'state';
  var xs = isState ? years : periods;
  var xTicks = isState ? yearTicks : periodTicks;
  var yMin = p.yTicks[0], yMax = p.yTicks[p.yTicks.length - 1];
  var datasets = [];

  datasets.push({ label: 'treat', data: [{ x: p.treat, y: yMin }, { x: p.treat, y: yMax }],
    borderColor: '#000', borderWidth: isState ? 2.5 : 1.6, order: isState ? 0 : 1 });

  if (isState) {
    datasets.push({ label: 'Actual', legend: true, data: pts(xs, p.actual),
      borderColor: '#0000ff', borderWidth: 2.6, order: 1 });
    datasets.push({ label: 'Synthetic', legend: true, data: pts(xs, p.synth),
      borderColor: '#008000', borderWidth: 2.6, borderDash: [6, 4], order: 2 });
  } else {
    datasets.push({ label: 'gap', data: pts(xs, p.gap), borderColor: '#000', borderWidth: 2.4, order: 0 });
    p.placebo.forEach(function (s, i) {
      datasets.push({ label: 'placebo ' + (i + 1), data: pts(xs, s), borderColor: '#00ff00', borderWidth: 1, order: 2 });
    });
  }

  new Chart(document.getElementById(p.id), {
    type: 'line',
    data: { datasets: datasets },
    options: {
      responsive: false,
      animation: false,
      devicePixelRatio: 1,
      layout: { padding: { left: 0, right: isState ? 28 : 1.7, top: 0, bottom: 0 } },
      elements: { point: { radius: 0 }, line: { tension: 0, fill: false } },
      plugins: {
        legend: { display: false },
        tooltip: { enabled: false },
        title: {
          display: true, text: p.title, color: '#000', fullSize: false,
          font: { family: FONT, size: 19.5, weight: 'normal', lineHeight: '20px' },
          padding: { top: 6, bottom: 8 }
        },
        frame: { legend: isState }
      },
      scales: {
        x: {
          type: 'linear', min: xs[0], max: xs[xs.length - 1],
          afterBuildTicks: function (s) { s.ticks = xTicks.map(function (v) { return { value: v }; }); },
          afterFit: function (s) { s.height = 49; },
          ticks: { autoSkip: false, maxRotation: 0, padding: 4, color: '#000',
            font: { family: FONT, size: 12.5 }, callback: function (v) { return String(v); } },
          grid: { color: GRID, drawTicks: false },
          border: { display: false },
          title: { display: true, text: 'year', color: '#000', font: { family: FONT, size: 12.5 },
            padding: { top: 0, bottom: 13.8 } }
        },
        y: {
          type: 'linear', min: yMin, max: yMax,
          afterBuildTicks: function (s) { s.ticks = p.yTicks.map(function (v) { return { value: v }; }); },
          afterFit: function (s) { s.width = isState ? 57.3 : 89.3; },
          ticks: { autoSkip: false, padding: 5, color: '#000',
            font: { family: FONT, size: 12.5 }, callback: function (v) { return String(v); } },
          grid: { color: GRID, drawTicks: false },
          border: { display: false }
        }
      }
    },
    plugins: [framePlugin]
  });
});
</script>
</body>
</html>
